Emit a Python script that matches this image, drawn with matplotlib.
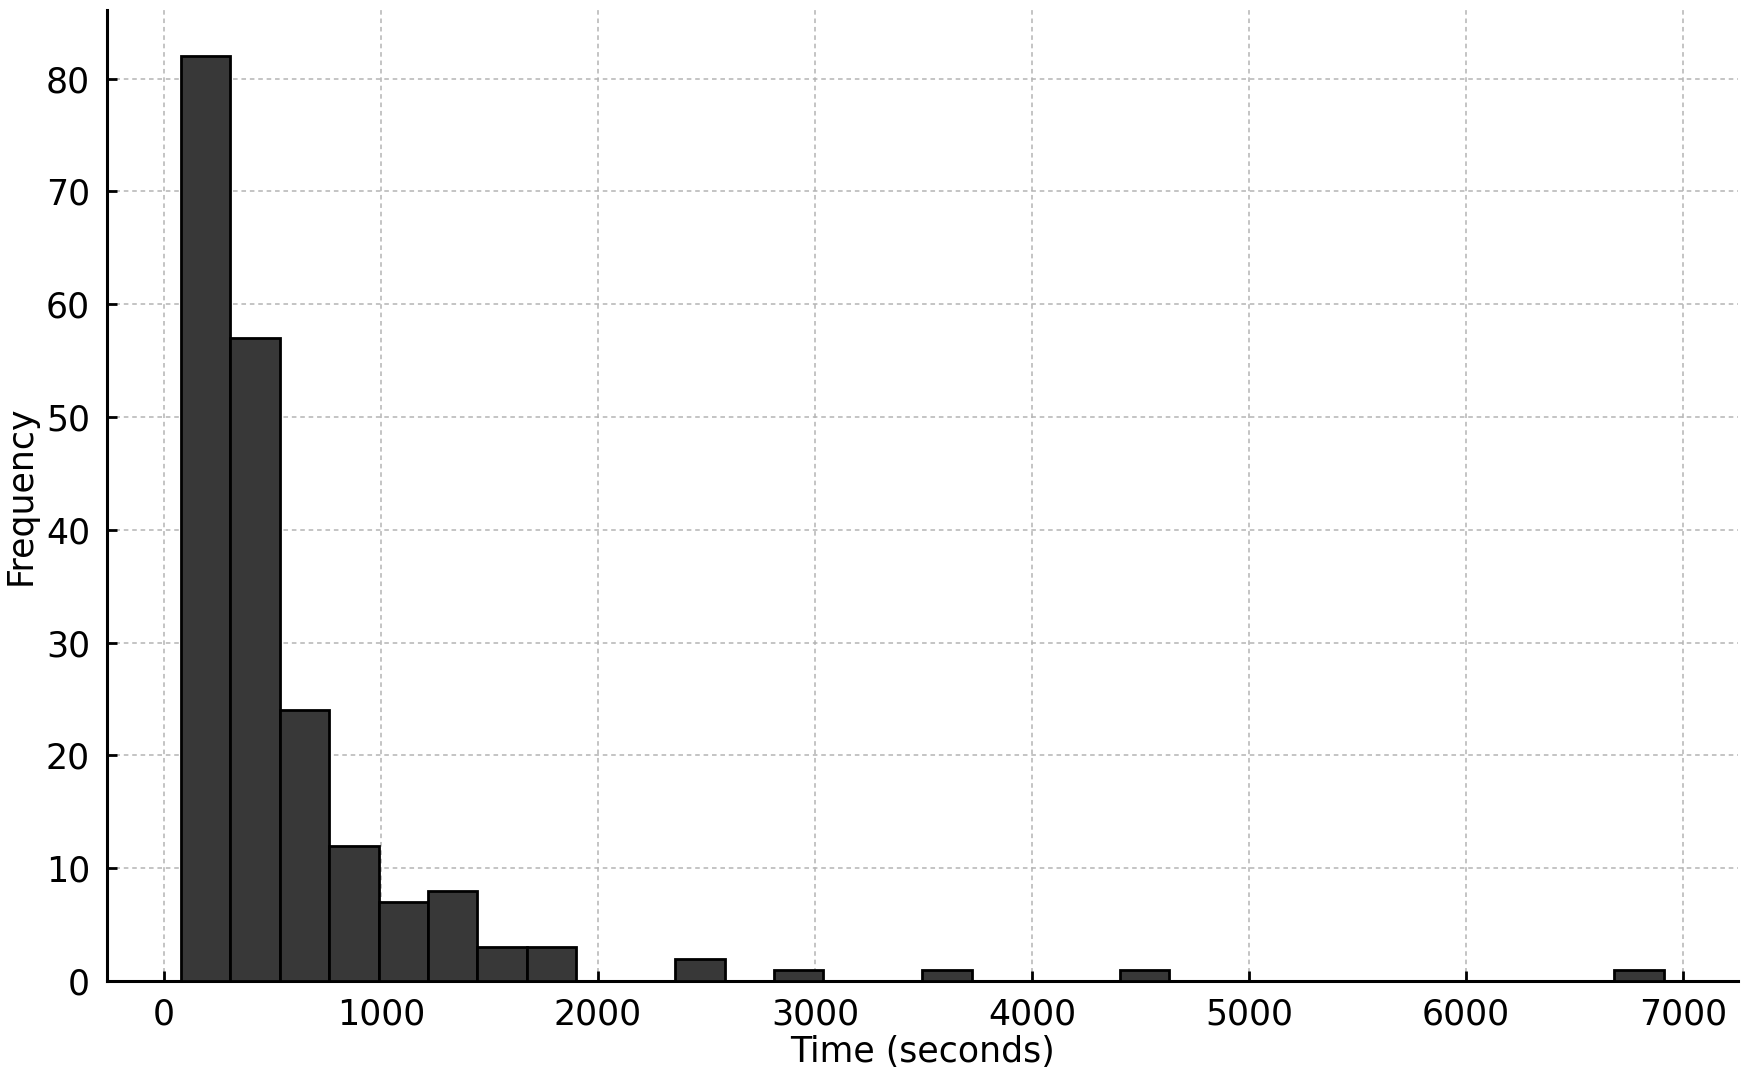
import numpy as np
import matplotlib
matplotlib.use("Agg")
import matplotlib.pyplot as plt

# Histogram data (30 equal-width bins between data min and max)
time_min = 78.0
time_max = 6911.0
counts = [82, 57, 24, 12, 7, 8, 3, 3, 0, 0,
          2, 0, 1, 0, 0, 1, 0, 0, 0, 1,
          0, 0, 0, 0, 0, 0, 0, 0, 0, 1]
x_ticks = [0, 1000, 2000, 3000, 4000, 5000, 6000, 7000]
y_ticks = [0, 10, 20, 30, 40, 50, 60, 70, 80]

edges = np.linspace(time_min, time_max, len(counts) + 1)
centers = (edges[:-1] + edges[1:]) / 2

plt.rcParams['font.family'] = ['DejaVu Sans']
fig = plt.figure(figsize=(8.75, 5.385), dpi=200)
ax = fig.add_axes([0.061, 0.089, 0.932, 0.902])

ax.hist(centers, bins=edges, weights=counts, color='#383838',
        edgecolor='black', linewidth=1.0, zorder=3)

ax.set_xticks(x_ticks)
ax.set_yticks(y_ticks)
ax.grid(True, linestyle=(0, (3, 2.5)), linewidth=0.55, color='#b4b4b4', zorder=0)
ax.set_axisbelow(True)

for s in ['top', 'right']:
    ax.spines[s].set_visible(False)
for s in ['left', 'bottom']:
    ax.spines[s].set_linewidth(1.1)

ax.tick_params(axis='both', direction='in', length=3.5, width=1.0,
               labelsize=12.5, pad=6)
ax.set_xlabel('Time (seconds)', fontsize=12.5, labelpad=1)
ax.set_ylabel('Frequency', fontsize=12.5, labelpad=3)

fig.savefig('out.png', dpi=200)
